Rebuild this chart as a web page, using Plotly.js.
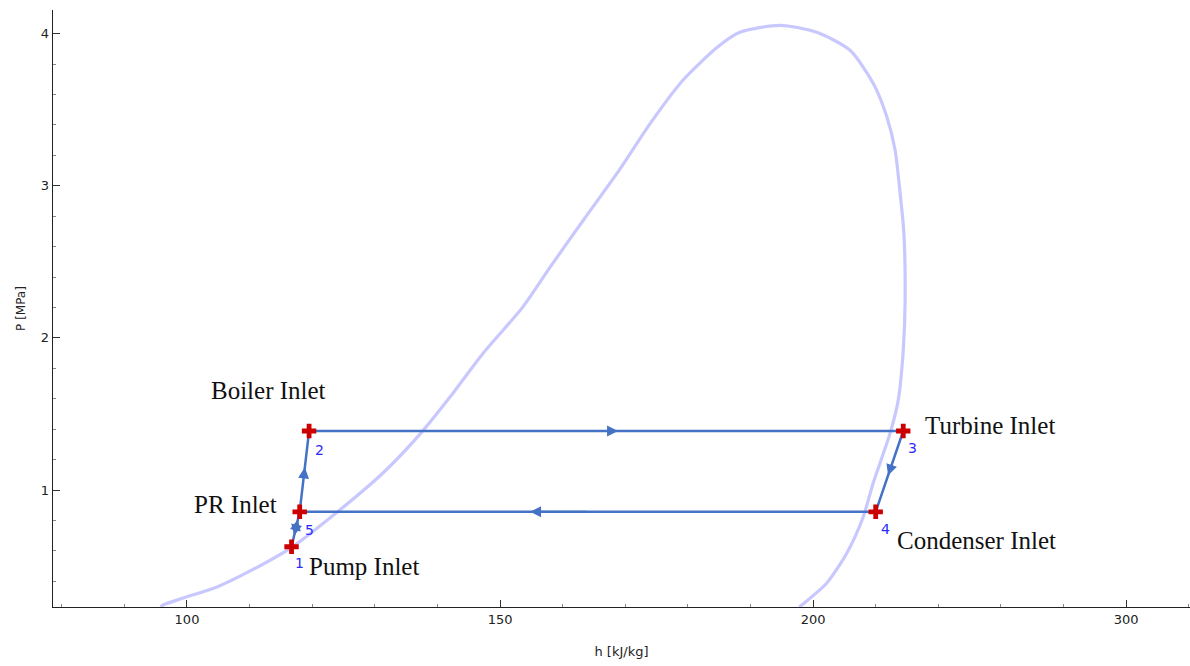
<!DOCTYPE html>
<html>
<head>
<meta charset="utf-8">
<script src="https://cdn.plot.ly/plotly-3.0.1.min.js"></script>
<style>html,body{margin:0;padding:0;background:#fff;}#chart{width:1190px;height:666px;}</style>
</head>
<body>
<div id="chart"></div>
<script>
// Saturation dome (liquid branch, then vapour branch)
const domeH = [95.8, 96.2, 99.4, 104.8, 110.1, 116.8, 124.0, 131.3, 137.5, 142.0, 147.3, 153.5, 158.0, 163.3, 168.7, 174.0, 179.2, 184.7, 188.3, 194.7,
               200.6, 205.9, 209.6, 211.8, 213.1, 213.9, 214.5, 214.7, 214.4, 213.6, 212.3, 209.6, 208.0, 205.4, 202.2, 198.2, 197.8];
const domeP = [0.231, 0.244, 0.290, 0.363, 0.468, 0.625, 0.855, 1.112, 1.381, 1.611, 1.900, 2.196, 2.465, 2.774, 3.083, 3.411, 3.694, 3.911, 4.009, 4.055,
               4.009, 3.891, 3.674, 3.451, 3.234, 2.951, 2.689, 2.248, 1.920, 1.591, 1.374, 1.046, 0.823, 0.586, 0.389, 0.244, 0.231];

// Cycle states
const stateNum  = ['1', '5', '2', '3', '4'];
const stateName = ['Pump Inlet', 'PR Inlet', 'Boiler Inlet', 'Turbine Inlet', 'Condenser Inlet'];
const stateH    = [116.7, 118.0, 119.5, 214.4, 210.0];
const stateP    = [0.627, 0.857, 1.388, 1.388, 0.857];
const pathOrder = [0, 1, 2, 3, 4, 1];

// Axis ticks
const xTickVals = [100, 150, 200, 250];
const xTickText = ['100', '150', '200', '300'];
const yTickVals = [1, 2, 3, 4];

const lineColor = '#4472c4';
const pathH = pathOrder.map(i => stateH[i]);
const pathP = pathOrder.map(i => stateP[i]);

const traces = [
  {x: domeH, y: domeP, mode: 'lines', line: {color: '#c8c8ff', width: 3.2, shape: 'spline', smoothing: 0.7}, hoverinfo: 'skip'},
  {x: pathH, y: pathP, mode: 'lines', line: {color: lineColor, width: 2.5}},
  {x: stateH, y: stateP, mode: 'markers', marker: {symbol: 'cross', size: 12, color: '#cc0000', line: {width: 0}}}
];

// layout offsets (pixels) for labels
const nameShift = [[72, -20], [-64, 7], [-41, 41], [87, 6], [101, -29]];
const numShift  = [[8, -16], [10, -18], [10, -19], [9, -17], [10, -17]];

const annotations = [];
stateH.forEach((h, i) => {
  annotations.push({x: h, y: stateP[i], xref: 'x', yref: 'y', text: stateName[i], showarrow: false,
    xshift: nameShift[i][0], yshift: nameShift[i][1], xanchor: 'center', yanchor: 'middle',
    font: {family: 'Liberation Serif, serif', size: 25, color: '#111'}});
  annotations.push({x: h, y: stateP[i], xref: 'x', yref: 'y', text: stateNum[i], showarrow: false,
    xshift: numShift[i][0], yshift: numShift[i][1], xanchor: 'center', yanchor: 'middle',
    font: {family: 'DejaVu Sans, sans-serif', size: 14, color: '#2a2aff'}});
});

// direction arrows along segments: [from, to, headFraction, tailFraction]
const arrowSpecs = [[1, 2, 0.55, 0.45], [2, 3, 0.52, 0.42], [3, 4, 0.55, 0.45], [4, 1, 0.60, 0.50], [0, 1, 0.78, 0.55], [1, 0, 0.68, 0.45]];
arrowSpecs.forEach(([a, b, fh, ft]) => {
  const lerp = (u, v, f) => u + (v - u) * f;
  annotations.push({
    x: lerp(stateH[a], stateH[b], fh), y: lerp(stateP[a], stateP[b], fh),
    ax: lerp(stateH[a], stateH[b], ft), ay: lerp(stateP[a], stateP[b], ft),
    xref: 'x', yref: 'y', axref: 'x', ayref: 'y', text: '', showarrow: true,
    arrowhead: 2, arrowsize: 1.1, arrowwidth: 2, arrowcolor: lineColor, standoff: 0, startstandoff: 0
  });
});

const axisCommon = {
  showgrid: false, zeroline: false, showline: true, linecolor: '#222', linewidth: 1.3,
  ticks: 'inside', ticklen: 7, tickwidth: 1, tickcolor: '#333',
  tickfont: {family: 'DejaVu Sans, sans-serif', size: 13, color: '#222'}
};

const layout = {
  width: 1190, height: 666,
  margin: {l: 53, r: 0, t: 10, b: 59},
  paper_bgcolor: '#fff', plot_bgcolor: '#fff',
  showlegend: false,
  xaxis: Object.assign({}, axisCommon, {
    range: [78.6, 260.2], tickmode: 'array', tickvals: xTickVals, ticktext: xTickText,
    minor: {tick0: 0, dtick: 10, ticks: 'inside', ticklen: 3, tickcolor: '#888', tickwidth: 1},
    title: {text: 'h [kJ/kg]', font: {family: 'DejaVu Sans, sans-serif', size: 13, color: '#222'}, standoff: 21}
  }),
  yaxis: Object.assign({}, axisCommon, {
    range: [0.231, 4.156], tickmode: 'array', tickvals: yTickVals,
    minor: {tick0: 0, dtick: 0.2, ticks: 'inside', ticklen: 3, tickcolor: '#888', tickwidth: 1},
    title: {text: 'P [MPa]', font: {family: 'DejaVu Sans, sans-serif', size: 12, color: '#222'}, standoff: 12}
  }),
  annotations: annotations
};

Plotly.newPlot('chart', traces, layout, {displayModeBar: false, staticPlot: true});
</script>
</body>
</html>
